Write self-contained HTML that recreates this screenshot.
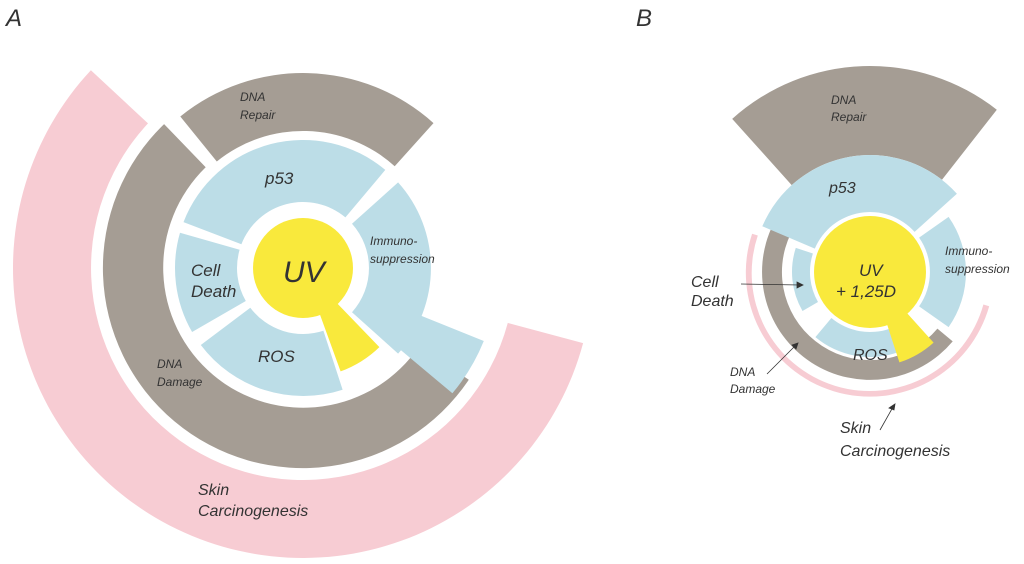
<!DOCTYPE html>
<html><head><meta charset="utf-8">
<style>
html,body{margin:0;padding:0;background:#fff;}
svg{display:block;}
text{font-family:"Liberation Sans",sans-serif;font-style:italic;fill:#333;}
</style></head>
<body>
<svg id="s" width="1024" height="564" viewBox="0 0 1024 564" xmlns="http://www.w3.org/2000/svg">
<g id="shapes"></g>
<text x="6" y="26" font-size="24" fill="#222">A</text>
<text x="636" y="26" font-size="24" fill="#222">B</text>
<!-- A labels -->
<text x="240" y="101" font-size="12">DNA</text>
<text x="240" y="119" font-size="12">Repair</text>
<text x="265" y="184" font-size="17">p53</text>
<text x="370" y="245" font-size="12">Immuno-</text>
<text x="370" y="263" font-size="12">suppression</text>
<text x="191" y="276" font-size="17">Cell</text>
<text x="191" y="297" font-size="17">Death</text>
<text x="283" y="282" font-size="30" fill="#111">UV</text>
<text x="258" y="362" font-size="17">ROS</text>
<text x="157" y="368" font-size="12">DNA</text>
<text x="157" y="386" font-size="12">Damage</text>
<text x="198" y="495" font-size="16">Skin</text>
<text x="198" y="516" font-size="16">Carcinogenesis</text>
<!-- B labels -->
<text x="831" y="104" font-size="12">DNA</text>
<text x="831" y="121" font-size="12">Repair</text>
<text x="829" y="193" font-size="16">p53</text>
<text x="945" y="255" font-size="12">Immuno-</text>
<text x="945" y="273" font-size="12">suppression</text>
<text x="691" y="287" font-size="16">Cell</text>
<text x="691" y="306" font-size="16">Death</text>
<text x="859" y="276" font-size="17" fill="#111">UV</text>
<text x="836" y="297" font-size="17" fill="#111">+ 1,25D</text>
<text x="853" y="360" font-size="16">ROS</text>
<text x="730" y="376" font-size="12">DNA</text>
<text x="730" y="393" font-size="12">Damage</text>
<text x="840" y="433" font-size="16">Skin</text>
<text x="840" y="456" font-size="16">Carcinogenesis</text>
<g stroke="#333" stroke-width="0.8" fill="#333">
<line x1="741" y1="284" x2="800" y2="285"/><polygon points="803,285 797,282 797,288"/>
<line x1="767" y1="374" x2="796" y2="345"/><polygon points="798,343 792,345 796,349"/>
<line x1="880" y1="430" x2="893" y2="407"/><polygon points="895,404 889,408 894,410"/>
</g>
</svg>
<script>
var g=document.getElementById('shapes');
function sec(cx,cy,r1,r2,a1,a2,fill){
 var t=Math.PI/180;function p(r,a){return (cx+r*Math.cos(a*t)).toFixed(1)+','+(cy+r*Math.sin(a*t)).toFixed(1);}
 var la=((a2-a1+360)%360)>180?1:0;
 var d='M'+p(r2,a1)+' A'+r2+','+r2+' 0 '+la+' 1 '+p(r2,a2)+' L'+p(r1,a2)+' A'+r1+','+r1+' 0 '+la+' 0 '+p(r1,a1)+'Z';
 var e=document.createElementNS('http://www.w3.org/2000/svg','path');e.setAttribute('d',d);e.setAttribute('fill',fill);g.appendChild(e);}
var P='#f7ccd3',G='#a59d94',B='#bcdde7',Y='#f9e93c';
// Panel A
var ax=303,ay=268;
sec(ax,ay,212,290,15,223,P);
sec(ax,ay,140,200,34,226,G);
sec(ax,ay,137,195,231,312,G);
sec(ax,ay,66,128,201,310,B);
sec(ax,ay,66,128,318,42,B);
sec(ax,ay,100,195,22,40,B);
sec(ax,ay,66,128,150,196,B);
sec(ax,ay,66,128,72,143,B);
sec(ax,ay,40,110,46,70,Y);
var c=document.createElementNS('http://www.w3.org/2000/svg','circle');c.setAttribute('cx',ax);c.setAttribute('cy',ay);c.setAttribute('r',50);c.setAttribute('fill',Y);g.appendChild(c);
// Panel B
var bx=870,by=272;
sec(bx,by,118,124,16,198,P);
sec(bx,by,88,108,40,206,G);
sec(bx,by,117,206,228,308,G);
sec(bx,by,60,117,203,318,B);
sec(bx,by,60,96,325,35,B);
sec(bx,by,60,78,150,198,B);
sec(bx,by,60,85,70,130,B);
sec(bx,by,40,95,48,72,Y);
c=document.createElementNS('http://www.w3.org/2000/svg','circle');c.setAttribute('cx',bx);c.setAttribute('cy',by);c.setAttribute('r',56);c.setAttribute('fill',Y);g.appendChild(c);
</script>
</body></html>
